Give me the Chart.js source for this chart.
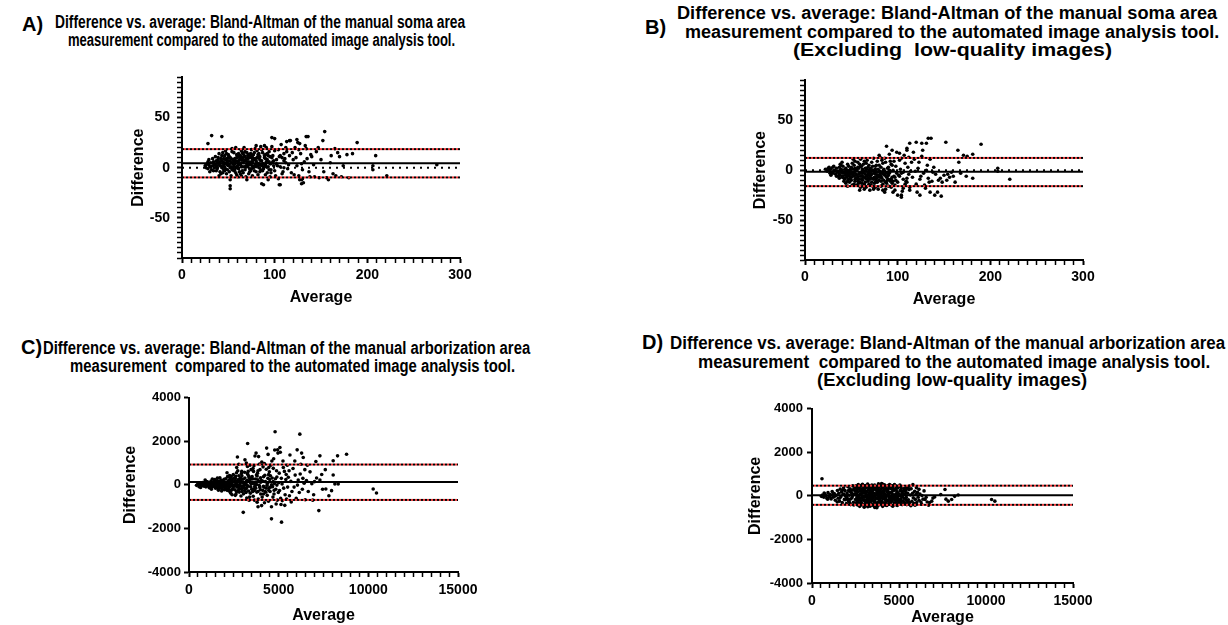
<!DOCTYPE html>
<html>
<head>
<meta charset="utf-8">
<script src="https://cdn.jsdelivr.net/npm/chart.js@4.4.0/dist/chart.umd.min.js"></script>
<style>
  body { margin: 0; width: 1228px; height: 625px; background: #fff; overflow: hidden; position: relative;
         font-family: "Liberation Sans", Arial, sans-serif; }
  canvas { position: absolute; }
  .ttl { position: absolute; font-weight: bold; font-size: 18px; line-height: 18px; white-space: pre;
         transform-origin: 0 0; color: #000; }
  .lbl { position: absolute; font-weight: bold; font-size: 20px; line-height: 20px; color: #000; }
</style>
</head>
<body>
<canvas id="chartA"></canvas>
<canvas id="chartB"></canvas>
<canvas id="chartC"></canvas>
<canvas id="chartD"></canvas>
<script>
// ---- data: [average, difference] pairs ----

// A) soma area, all images
const somaAllPoints = [
  [25,2],[26,0],[27,4],[28,-1],[29,3],[30,1],[31,5],[32,-2],[33,2],[34,6],[35,0],[28,6],[30,-4],[33,9],[26,3],[34,-3],[31,1],[29,8],
  [36,3],[37,7],[38,-1],[39,10],[40,4],[41,-4],[42,2],[43,12],[44,6],[45,-2],[36,11],[38,5],[40,14],[42,-6],[44,1],[37,-3],[39,8],[41,6],[43,0],[45,9],[40,-8],[44,15],
  [46,5],[47,-1],[48,9],[49,3],[50,13],[51,-4],[52,7],[53,1],[54,16],[55,4],[46,12],[48,-6],[50,2],[52,10],[54,-2],[47,17],[49,6],[51,11],[53,-8],[55,8],[46,-3],[50,7],[52,-12],[54,19],[48,14],[53,5],
  [56,2],[57,9],[58,-5],[59,13],[60,6],[61,-1],[62,11],[63,3],[64,17],[65,-3],[56,15],[58,7],[60,-9],[62,4],[64,10],[57,-2],[59,1],[61,14],[63,-6],[65,8],[58,20],[60,12],[62,-4],[64,1],[56,6],[61,7],[63,9],[59,-7],[57,4],[65,15],
  [66,5],[67,12],[68,-2],[69,8],[70,15],[71,1],[72,-6],[73,10],[74,3],[75,18],[66,-5],[68,7],[70,2],[72,13],[74,-3],[67,20],[69,-9],[71,9],[73,5],[75,-1],[66,10],[70,-12],[72,6],[68,16],[74,11],[67,1],[71,4],[73,-4],
  [76,6],[77,13],[78,-3],[79,9],[80,1],[81,17],[82,-7],[83,4],[84,11],[85,21],[76,-8],[78,15],[80,7],[82,2],[84,-4],[77,0],[79,19],[81,5],[83,14],[85,-2],[78,8],[80,22],[82,10],[84,3],[76,12],
  [86,7],[87,15],[88,-1],[89,10],[90,3],[91,20],[92,-5],[93,12],[94,6],[95,-9],[86,18],[88,4],[90,-7],[92,8],[94,16],[87,-3],[89,22],[91,1],[93,-12],[95,11],[88,-17],[90,13],
  [96,4],[98,12],[100,-3],[102,8],[104,18],[106,1],[108,-6],[110,14],[112,5],[114,-1],[97,21],[99,7],[101,-8],[103,2],[105,11],[107,23],[109,-4],[111,9],[113,16],[115,3],[100,17],[104,-11],[106,-17],[110,0],[112,20],[96,-2],[108,10],
  [116,12],[118,-5],[120,8],[122,20],[124,2],[126,-8],[128,14],[130,-2],[132,6],[134,19],[117,27],[119,15],[121,-7],[123,10],[125,25],[127,-12],[129,4],[131,-15],[133,22],[135,9],[137,-4],[139,13],[124,28],[136,31],[138,-9],[140,11],[126,18],[130,-11],
  [142,3],[145,16],[148,-10],[150,8],[152,27],[154,36],[156,-10],[158,-12],[160,5],[163,-6],[165,19],[166,-8],[168,15],[170,11],[172,-9],[174,2],[178,13],[180,-10],[184,14],[189,25],[206,2],[206,-2],[209,12],[221,-8],[275,3],[143,-9],[147,20],[153,-4],[161,12],
  [32,32],[43,31],[97,30],[100,29],[134,31],[113,26],[116,27],[127,24],[28,24],[52,-18],[52,-21],[86,-16],[105,-17],[129,-16],[129,-12],
  [35,4],[37,1],[39,5],[41,2],[43,7],[45,3],[47,8],[49,-2],[51,3],[53,9],[55,0],[57,6],[59,10],[61,3],[63,12],[65,1],[67,7],[69,2],[71,12],[73,-1],[75,6],[77,9],[79,3],[81,10],[83,0],[85,7],[87,4],[89,12],[91,6],[93,1],[95,4],[97,10],[99,2],
  [42,9],[46,1],[50,10],[54,5],[58,0],[62,8],[66,14],[70,6],[74,14],[78,1],[82,13],[86,2],[90,9],[94,-2],[98,6],[44,-5],[56,-3],[60,2],[64,5],[68,11],[72,3],[76,9],[80,4],[84,8],[88,1],[92,14],[96,-5],[102,4],[106,12],[110,7],[38,2],[48,4],[52,0],[64,-8],[70,9],[76,2],[80,-4]
];
const somaAllBias = 4.4;
const somaAllLimits = [18.5, -9.7];

// B) soma area, low-quality images excluded
const somaGoodPoints = [
  [22,1],[24,-1],[25,2],[26,0],[27,-3],[28,1],[29,-2],[30,3],[31,-1],[32,0],[33,-4],[34,2],[35,-2],[28,-5],[31,4],[34,-6],[26,3],[30,-3],
  [36,-1],[37,3],[38,-5],[39,1],[40,-7],[41,4],[42,-2],[43,-9],[44,2],[45,-4],[36,-6],[38,6],[40,0],[42,-11],[44,-1],[37,-8],[39,5],[41,-3],[43,1],[45,-7],[40,8],[44,-13],
  [46,-2],[47,4],[48,-6],[49,1],[50,-10],[51,7],[52,-3],[53,-14],[54,2],[55,-8],[46,6],[48,-12],[50,3],[52,-5],[54,9],[47,-9],[49,-1],[51,-15],[53,5],[55,-4],[46,-16],[50,-7],[52,11],[54,-11],[48,0],[53,-2],
  [56,-5],[57,3],[58,-9],[59,6],[60,-2],[61,-13],[62,1],[63,-7],[64,9],[65,-4],[56,-15],[58,2],[60,-17],[62,-10],[64,-1],[57,8],[59,-12],[61,4],[63,-16],[65,-8],[58,-4],[60,11],[62,-6],[64,-19],[56,0],[61,-3],[63,6],[59,-20],[57,-11],[65,2],
  [66,-6],[67,1],[68,-11],[69,5],[70,-3],[71,-15],[72,8],[73,-8],[74,0],[75,-13],[66,-17],[68,3],[70,-9],[72,-1],[74,-19],[67,10],[69,-14],[71,-5],[73,4],[75,-7],[66,7],[70,-20],[72,-12],[68,-4],[74,12],[67,-9],[71,2],[73,-16],
  [76,-4],[77,5],[78,-12],[79,1],[80,-7],[81,13],[82,-16],[83,-2],[84,7],[85,-10],[76,-17],[78,9],[80,-1],[82,3],[84,-14],[77,-8],[79,-19],[81,-4],[83,10],[85,1],[78,-6],[80,15],[82,-11],[84,-20],[76,4],
  [86,-5],[87,8],[88,-13],[89,2],[90,-9],[91,16],[92,-1],[93,-17],[94,5],[95,-11],[86,12],[88,-3],[90,-16],[92,9],[94,-7],[87,-19],[89,-10],[91,0],[93,6],[95,-22],[88,24],[90,3],
  [96,-6],[98,4],[100,-12],[102,10],[104,-3],[106,-18],[108,7],[110,-8],[112,13],[114,-1],[97,-15],[99,18],[101,-5],[103,1],[105,-21],[107,15],[109,-11],[111,3],[113,-17],[115,8],[100,-25],[104,12],[106,-9],[110,20],[112,-4],[96,9],[108,-14],
  [116,-7],[118,11],[120,-14],[122,2],[124,-9],[126,14],[128,-3],[130,-18],[132,5],[134,-12],[117,18],[119,-1],[121,-22],[123,8],[125,-6],[127,20],[129,-15],[131,0],[133,-8],[135,11],[137,-11],[139,3],[141,-4],[144,-10],[146,-8],[148,-12],[150,-5],[136,32],[133,32],[138,-2],
  [152,28],[154,-4],[156,-7],[153,-10],[160,-6],[165,20],[166,8],[171,15],[174,-6],[181,16],[181,-8],[190,26],[208,2],[208,-1],[221,-9],[158,-2],[162,-12],[175,14],[168,-3],
  [113,27],[120,28],[126,27],[131,27],[94,20],[102,17],[110,22],[104,-25],[104,-27],[124,-25],[135,-22],[140,-25],[147,-26],[143,-22],[86,-22],[97,-20],[113,-20],
  [35,-1],[37,-4],[39,-2],[41,-6],[43,-3],[45,0],[47,-5],[49,-8],[51,-2],[53,-6],[55,1],[57,-7],[59,-3],[61,-9],[63,-1],[65,-12],[67,-5],[69,-2],[71,-8],[73,0],[75,-3],[77,-10],[79,-5],[81,-1],[83,-8],[85,-4],[87,-12],[89,-6],[91,-3],[93,-9],[95,0],[97,-7],[99,-3],
  [42,-8],[46,-11],[50,-4],[54,-9],[58,-13],[62,-3],[66,-1],[70,-6],[74,-9],[78,-2],[82,-6],[86,-1],[90,-5],[94,-13],[98,-10],[44,-5],[56,-8],[60,-6],[64,-14],[68,-8],[72,-4],[76,-12],[80,-10],[84,-3],[88,-7],[92,-11],[102,-6],[106,-2],[110,-12],[38,0],[48,-3],[52,1],[60,4],[66,2],[70,0],[76,1],[80,5]
];
const somaGoodBias = -1.6;
const somaGoodLimits = [12.3, -16];

// C) arborization area, all images
const arborAllPoints = [
  [420,-20],[500,60],[560,-80],[620,30],[700,-40],[760,110],[820,-10],[880,50],[940,-90],[980,150],[650,-120],[900,220],[720,80],[840,-60],[960,20],
  [1020,-50],[1080,90],[1130,-130],[1180,30],[1230,180],[1280,-70],[1330,60],[1380,-20],[1430,240],[1480,-150],[1050,130],[1150,-10],[1250,-200],[1350,120],[1450,40],[1100,10],[1200,-100],[1300,270],[1400,-60],[1500,90],
  [1520,-110],[1560,190],[1600,20],[1640,-240],[1680,80],[1720,330],[1760,-40],[1800,140],[1840,-180],[1880,60],[1920,-90],[1960,260],[2000,0],[1540,40],[1620,-60],[1700,-170],[1780,220],[1860,-10],[1940,110],[1580,310],[1660,160],[1740,-110],[1820,-280],[1900,190],[1980,-220],
  [2030,120],[2070,-150],[2110,40],[2150,380],[2190,-60],[2230,220],[2270,-300],[2310,90],[2350,-30],[2390,170],[2430,-200],[2470,480],[2050,280],[2090,-80],[2130,-250],[2170,160],[2210,10],[2250,-120],[2290,340],[2330,-380],[2370,60],[2410,250],[2450,-90],[2490,-10],[2120,560],[2260,430],[2400,-450],[2200,-200],[2340,130],
  [2520,150],[2560,-220],[2600,390],[2640,40],[2680,-100],[2720,650],[2760,240],[2800,-330],[2840,90],[2880,-40],[2920,520],[2960,-160],[2540,-60],[2580,290],[2620,-420],[2660,180],[2700,-20],[2740,-260],[2780,420],[2820,10],[2860,320],[2900,-510],[2940,120],[2980,-80],[2660,800],[2780,950],[2700,1280],[2580,-480],[2840,-190],[2940,620],[2620,60],[2890,210],
  [3020,260],[3060,-120],[3100,580],[3140,20],[3180,-350],[3220,190],[3260,850],[3300,-60],[3340,400],[3380,-560],[3420,110],[3460,700],[3500,-200],[3040,-410],[3080,90],[3120,320],[3160,-200],[3200,1000],[3240,-20],[3280,480],[3320,-280],[3360,160],[3400,900],[3440,-90],[3480,290],[3025,-1260],[3270,1900],[3120,1150],[3300,620],[3180,90],[3350,-700],[3420,-380],[3460,40],[3080,-30],[3220,-600],
  [3520,380],[3560,-300],[3600,620],[3640,60],[3680,1330],[3720,-150],[3760,450],[3800,-800],[3840,230],[3880,1300],[3920,-30],[3960,700],[4000,-420],[3540,100],[3580,-520],[3620,880],[3660,-90],[3700,270],[3740,1460],[3780,-330],[3820,540],[3860,-650],[3900,150],[3940,960],[3980,-220],[3570,750],[3650,-700],[3770,20],[3850,-1000],[3990,330],
  [4030,200],[4080,-560],[4130,830],[4180,-100],[4230,440],[4280,-340],[4330,1690],[4380,80],[4430,-750],[4480,600],[4060,1050],[4110,-250],[4160,380],[4210,-820],[4260,150],[4310,720],[4360,-480],[4410,1400],[4460,-130],[4500,250],[4200,980],[4350,-20],[4050,-950],[4440,470],
  [4520,-300],[4560,900],[4600,-1000],[4640,320],[4680,-560],[4720,1200],[4760,60],[4800,2440],[4840,-200],[4880,650],[4920,-700],[4960,1460],[5000,100],[4540,420],[4600,-1560],[4660,-80],[4700,760],[4740,-420],[4780,1600],[4820,280],[4860,-880],[4900,-10],[4940,1610],[4980,-350],[4620,1100],
  [5030,540],[5070,1715],[5110,-620],[5150,300],[5160,-1710],[5200,-720],[5240,1100],[5280,-150],[5320,620],[5360,-450],[5400,250],[5440,-650],[5480,900],[5050,-260],[5090,1500],[5130,-900],[5190,40],[5260,800],[5340,-940],[5420,480],[5500,-100],
  [5540,350],[5600,-500],[5630,1370],[5680,160],[5740,-300],[5800,750],[5860,-100],[5920,450],[5980,-620],[6030,1610],[6090,220],[6150,-350],[6180,2330],[6230,950],[6280,1460],[6320,-200],[6370,1260],[6420,80],[6480,-680],[5580,650],[5700,-780],[5900,1100],[6050,-10],[6200,500],[6350,300],[6460,700],
  [6550,200],[6650,-300],[6750,600],[6850,50],[6950,-450],[7075,1075],[7115,315],[7240,-1180],[7300,1335],[7300,224],[7450,-200],[7630,-187],[7950,-265],[8040,1106],[8040,452],[8134,41],[8284,1335],[8320,41],[8786,1411],[6600,900],[6900,-700],[7000,150],[7600,700],[7800,-500],[7400,480],
  [10270,-187],[10455,-370],
  [1100,-40],[1250,60],[1400,150],[1550,-50],[1700,100],[1850,200],[2000,-120],[2150,90],[2300,230],[2450,-180],[2600,160],[2750,-70],[2900,300],[3050,60],[3200,-150],[3350,330],[3500,70],[3650,-250],[3800,410],[3950,-120],[4100,180],[4250,-300],[4400,300],[4550,-100],[4700,150],
  [1300,-90],[1600,-150],[1900,-60],[2200,-20],[2500,320],[2800,-150],[3100,-260],[3400,230],[3700,-20],[4000,120],[4300,-150],[4600,0],[4900,360],[2350,-260],[2650,-320],[2950,-300],[3250,200],[3550,-200],[3850,-300],[4150,-420],[4450,-250],
  [1750,20],[2050,-30],[2350,390],[2650,560],[2950,420],[3250,520],[3550,270],[3850,650],[4150,-60],[4450,800],[4750,-250]
];
const arborAllBias = 130;
const arborAllLimits = [935, -690];

// D) arborization area, low-quality images excluded
const arborGoodPoints = [
  [540,-20],[600,40],[680,-60],[740,90],[800,10],[860,-110],[920,150],[980,-30],[1040,60],[1100,-140],[1160,200],[1220,-60],[1280,110],[1340,-200],[1400,30],[1460,250],[1500,-110],[573,791],[700,130],[900,-150],[1050,-60],[1200,70],[1300,-20],[1450,-280],
  [1540,120],[1580,-240],[1620,310],[1660,-40],[1700,180],[1740,-310],[1780,60],[1820,370],[1860,-160],[1900,240],[1940,-20],[1980,-350],[2020,130],[2060,420],[2100,-230],[2140,30],[2180,330],[2220,-400],[2260,160],[2300,-90],[2340,460],[2380,-290],[2420,70],[2460,370],[2500,-170],[1600,-100],[1760,270],[1920,-180],[2040,-120],[2160,-300],[2280,270],[2400,-420],[1840,80],[2200,200],[2320,-10],[2480,210],
  [2520,460],[2540,-330],[2560,100],[2580,-80],[2600,290],[2620,-420],[2640,180],[2660,520],[2680,-200],[2700,20],[2720,380],[2740,-480],[2760,240],[2780,-110],[2800,470],[2820,70],[2840,-300],[2860,330],[2880,-20],[2900,530],[2920,-420],[2940,150],[2960,-190],[2980,410],[3000,-520],[3020,260],[3040,-60],[3060,480],[3080,-280],[3100,110],[3120,370],[3140,-430],[3160,200],[3180,-120],[3200,540],[3220,30],[3240,-350],[3260,300],[3280,-190],[3300,460],[3320,-40],[3340,-470],[3360,170],[3380,390],[3400,-250],[3420,70],[3440,500],[3460,-380],[3480,240],[3500,-100],
  [2530,60],[2570,240],[2610,-150],[2650,-20],[2690,350],[2730,-330],[2770,100],[2810,-220],[2850,200],[2890,-370],[2930,320],[2970,-60],[3010,130],[3050,-420],[3090,390],[3130,-200],[3170,40],[3210,-500],[3250,430],[3290,90],[3330,-280],[3370,-20],[3410,330],[3450,-160],[3490,440],[3030,-230],[3150,-10],[3270,-120],[3390,-80],[3350,250],
  [3520,360],[3540,-450],[3560,120],[3580,-230],[3600,500],[3620,10],[3640,-380],[3660,270],[3680,-90],[3700,430],[3720,-510],[3740,160],[3760,-300],[3780,380],[3800,-50],[3820,550],[3840,-420],[3860,210],[3880,-180],[3900,470],[3920,60],[3940,-340],[3960,320],[3980,-100],[4000,570],[4020,-260],[4040,130],[4060,-480],[4080,400],[4100,-20],[4120,260],[4140,-390],[4160,510],[4180,-150],[4200,90],[4220,-300],[4240,440],[4260,-50],[4280,300],[4300,-440],[4320,180],[4340,-210],[4360,480],[4380,20],[4400,-370],[4420,350],[4440,-120],[4460,520],[4480,-280],[4500,140],
  [3550,-30],[3590,330],[3630,-170],[3670,80],[3710,-390],[3750,230],[3790,-140],[3830,110],[3870,-280],[3910,280],[3950,-30],[3990,190],[4030,380],[4070,-120],[4110,-330],[4150,70],[4190,310],[4230,-90],[4270,-420],[4310,40],[4350,260],[4390,-230],[4430,150],[4470,-60],[3725,-545],[3610,-530],[4050,540],[3850,420],
  [4520,-400],[4540,330],[4560,-60],[4580,480],[4600,-240],[4620,90],[4640,-470],[4660,380],[4680,-130],[4700,250],[4720,-330],[4740,520],[4760,20],[4780,-400],[4800,300],[4820,-180],[4840,450],[4860,-70],[4880,200],[4900,-440],[4920,360],[4940,-250],[4960,110],[4980,-10],[5000,430],[5030,-330],[5060,230],[5090,-160],[5120,380],[5150,-40],[5180,-400],[5210,200],[5240,-220],[5270,330],[5300,-110],[5330,80],[5360,-330],[5390,260],[5420,-60],[5450,400],[5480,-250],[5500,120],[4570,160],[4690,-20],[4810,80],[4930,-120],[5050,40],[5170,110],[5290,-300],[5410,140],
  [5540,-180],[5580,290],[5620,-380],[5660,40],[5700,330],[5740,-250],[5780,120],[5820,-90],[5860,-340],[5900,210],[5940,-160],[5980,60],[6020,-300],[6060,160],[6100,-60],[6150,-200],[6200,90],[6260,-280],[6320,20],[6380,-150],[6440,230],[6498,-164],[6560,-60],[6620,-280],[6700,-430],[6760,-300],[6881,-241],[6950,-100],[7050,-50],[5600,450],[5800,520],[6000,380],[5680,-450],[5920,-430],[6300,-380],[6150,300],
  [7400,60],[7643,291],[7833,-241],[8027,-164],[7700,-150],[8200,-20],[10321,-164],[10510,-241],[8400,40],
  [2000,0],[2100,250],[2200,-150],[2300,100],[2400,300],[2500,50],[2600,-260],[2700,450],[2800,-380],[2900,200],[3000,300],[3100,-350],[3200,-260],[3300,150],[3400,420],[3500,-20],[3600,-300],[3700,90],[3800,250],[3900,-230],[4000,0],[4100,450],[4200,-420],[4300,330],[4400,100],[4500,-300],[4600,400],[4700,-80],[4800,-300],[4900,140],[5000,-200],[5100,270],[5200,-50],[5300,230],[5400,-170],[5500,350],[5600,-300],
  [2550,380],[2650,-100],[2750,-440],[2850,-100],[2950,480],[3050,190],[3150,460],[3250,-440],[3350,-130],[3450,110],[3550,430],[3650,370],[3750,-450],[3850,-100],[3950,490],[4050,-380],[4150,200],[4250,-200],[4350,-380],[4450,430],[4550,-170],[4650,250],[4750,-180],[4850,350],[4950,-380],[5050,500],[5150,-250],[5250,60],[5350,350],[5450,-400]
];
const arborGoodBias = 30;
const arborGoodLimits = [470, -410];

// axis ranges
const somaXRange = [0, 300], somaYRange = [-90, 90];
const arborXRange = [0, 15000], arborYRange = [-4000, 4000];

// ---- titles ----
const titleLines = [
  { t: 'Difference vs. average: Bland-Altman of the manual soma area', l: 55, r: 465, b: 28 },
  { t: 'measurement compared to the automated image analysis tool.', l: 68, r: 455, b: 46 },
  { t: 'Difference vs. average: Bland-Altman of the manual soma area', l: 677, r: 1217, b: 19 },
  { t: 'measurement compared to the automated image analysis tool.', l: 685, r: 1219, b: 38 },
  { t: '(Excluding  low-quality images)', l: 793, r: 1112, b: 56 },
  { t: 'Difference vs. average: Bland-Altman of the manual arborization area', l: 43, r: 530, b: 354 },
  { t: 'measurement  compared to the automated image analysis tool.', l: 70, r: 515, b: 372 },
  { t: 'Difference vs. average: Bland-Altman of the manual arborization area', l: 670, r: 1225, b: 349 },
  { t: 'measurement  compared to the automated image analysis tool.', l: 698, r: 1210, b: 368 },
  { t: '(Excluding low-quality images)', l: 817, r: 1087, b: 386 }
];
const panelLabels = [
  { t: 'A)', l: 22, b: 31 }, { t: 'B)', l: 645, b: 34 },
  { t: 'C)', l: 21, b: 354 }, { t: 'D)', l: 642, b: 349 }
];

titleLines.forEach(function (o) {
  const el = document.createElement('div');
  el.className = 'ttl';
  el.textContent = o.t;
  el.style.left = o.l + 'px';
  el.style.top = (o.b - 15) + 'px';
  document.body.appendChild(el);
  el.style.transform = 'scaleX(' + ((o.r - o.l) / el.offsetWidth) + ')';
});
panelLabels.forEach(function (o) {
  const el = document.createElement('div');
  el.className = 'lbl';
  el.textContent = o.t;
  el.style.left = o.l + 'px';
  el.style.top = (o.b - 17) + 'px';
  document.body.appendChild(el);
});

// ---- charts ----
const FONT = '"Liberation Sans", Arial, sans-serif';

function flat(range, v) {
  return [{ x: range[0], y: v }, { x: range[1], y: v }];
}

function makePanel(id, box, d) {
  const cv = document.getElementById(id);
  cv.width = box.w; cv.height = box.h;
  cv.style.left = box.x + 'px'; cv.style.top = box.y + 'px';

  const ds = [
    { data: flat(d.xr, d.bias), borderColor: '#000', borderWidth: 2 },
    { data: flat(d.xr, d.limits[0]), borderColor: '#000', borderWidth: 2, borderDash: [2, 2] },
    { data: flat(d.xr, d.limits[0]), borderColor: '#e8393a', borderWidth: 2, borderDash: [2, 2], borderDashOffset: 2 },
    { data: flat(d.xr, d.limits[1]), borderColor: '#000', borderWidth: 2, borderDash: [2, 2] },
    { data: flat(d.xr, d.limits[1]), borderColor: '#e8393a', borderWidth: 2, borderDash: [2, 2], borderDashOffset: 2 }
  ];
  if (d.zeroLine) {
    ds.push({ data: flat(d.xr, 0), borderColor: '#000', borderWidth: 2, borderDash: [2, 5] });
  }
  ds.forEach(function (s) { s.showLine = true; s.pointRadius = 0; s.order = 1; });
  ds.push({
    data: d.points.map(function (p) { return { x: p[0], y: p[1] }; }),
    pointRadius: 1.8, pointBackgroundColor: '#000', pointBorderWidth: 0, showLine: false, order: 5
  });

  new Chart(cv, {
    type: 'scatter',
    data: { datasets: ds },
    options: {
      responsive: false,
      animation: false,
      layout: { padding: { top: 10, right: box.padR, bottom: 0, left: 0 } },
      plugins: { legend: { display: false }, tooltip: { enabled: false } },
      scales: {
        x: {
          type: 'linear', min: d.xr[0], max: d.xr[1],
          border: { color: '#000', width: 2 },
          grid: { drawOnChartArea: false, tickLength: 5, tickColor: '#000',
                  tickWidth: function (c) { return c.tick && c.tick.value % d.xMajor === 0 ? 2 : 1.5; } },
          ticks: { stepSize: d.xMinor, autoSkip: false, maxRotation: 0, padding: box.xPad, color: '#000',
                   font: { family: FONT, size: 14, weight: 'bold' },
                   callback: function (v) { return v % d.xMajor === 0 ? v : ''; } },
          title: { display: true, text: 'Average', color: '#000', padding: 0,
                   font: { family: FONT, size: 16, weight: 'bold' } },
          afterFit: function (s) { s.height = box.xH; }
        },
        y: {
          type: 'linear', min: d.yr[0], max: d.yr[1],
          border: { color: '#000', width: 2 },
          grid: { drawOnChartArea: false, tickLength: 5, tickColor: '#000',
                  tickWidth: function (c) { return c.tick && c.tick.value % d.yMajor === 0 ? 2 : 1.5; } },
          ticks: { stepSize: d.yMinor, autoSkip: false, padding: box.yPad, color: '#000',
                   font: { family: FONT, size: d.yFont, weight: 'bold' },
                   callback: function (v) { return v % d.yMajor === 0 ? v : ''; } },
          title: { display: true, text: 'Difference', color: '#000', padding: 0,
                   font: { family: FONT, size: 16, weight: 'bold' } },
          afterFit: function (s) { s.width = box.yW; }
        }
      }
    }
  });
}

makePanel('chartA', { x: 129, y: 62, w: 356, h: 245, yW: 53, xH: 49, padR: 25, xPad: 4, yPad: 7 },
  { points: somaAllPoints, bias: somaAllBias, limits: somaAllLimits, zeroLine: true,
    xr: somaXRange, yr: somaYRange, xMinor: 10, xMajor: 100, yMinor: 5, yMajor: 50, yFont: 14 });
makePanel('chartB', { x: 751, y: 65, w: 357, h: 244, yW: 54, xH: 49, padR: 25, xPad: 4, yPad: 7 },
  { points: somaGoodPoints, bias: somaGoodBias, limits: somaGoodLimits, zeroLine: true,
    xr: somaXRange, yr: somaYRange, xMinor: 10, xMajor: 100, yMinor: 5, yMajor: 50, yFont: 14 });
makePanel('chartC', { x: 121, y: 387, w: 367, h: 238, yW: 68, xH: 53, padR: 30, xPad: 5, yPad: 3 },
  { points: arborAllPoints, bias: arborAllBias, limits: arborAllLimits, zeroLine: false,
    xr: arborXRange, yr: arborYRange, xMinor: 500, xMajor: 5000, yMinor: 2000, yMajor: 2000, yFont: 13 });
makePanel('chartD', { x: 746, y: 397, w: 357, h: 230, yW: 66, xH: 44, padR: 30, xPad: 5, yPad: 4 },
  { points: arborGoodPoints, bias: arborGoodBias, limits: arborGoodLimits, zeroLine: false,
    xr: arborXRange, yr: arborYRange, xMinor: 500, xMajor: 5000, yMinor: 2000, yMajor: 2000, yFont: 13 });
</script>
</body>
</html>
